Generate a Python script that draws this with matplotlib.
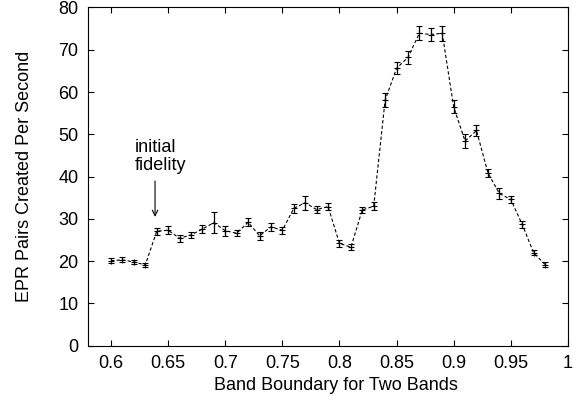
import matplotlib
matplotlib.use("Agg")
import matplotlib.pyplot as plt
import numpy as np

plt.rcParams['font.family'] = ['Liberation Sans', 'DejaVu Sans']

boundary = [0.60, 0.61, 0.62, 0.63, 0.64, 0.65, 0.66, 0.67, 0.68, 0.69,
            0.70, 0.71, 0.72, 0.73, 0.74, 0.75, 0.76, 0.77, 0.78, 0.79,
            0.80, 0.81, 0.82, 0.83, 0.84, 0.85, 0.86, 0.87, 0.88, 0.89,
            0.90, 0.91, 0.92, 0.93, 0.94, 0.95, 0.96, 0.97, 0.98]
pairs = [20.1, 20.3, 19.8, 19.1, 27.1, 27.3, 25.4, 26.2, 27.6, 29.1,
         27.2, 26.6, 29.2, 26.0, 28.1, 27.3, 32.5, 33.8, 32.2, 32.9,
         24.2, 23.3, 32.1, 33.0, 58.1, 65.6, 68.2, 73.9, 73.6, 73.9,
         56.5, 48.4, 50.9, 40.9, 36.0, 34.6, 28.7, 22.0, 19.2]
err = [0.6, 0.6, 0.5, 0.5, 0.8, 0.9, 0.8, 0.8, 0.9, 2.5,
       1.2, 0.7, 0.9, 0.9, 0.9, 0.8, 1.0, 1.6, 0.9, 0.9,
       0.8, 0.7, 0.8, 0.9, 1.6, 1.4, 1.5, 1.7, 1.5, 1.8,
       1.5, 1.7, 1.3, 1.0, 1.4, 0.9, 0.8, 0.6, 0.5]

fig = plt.figure(figsize=(5.73, 4.15), dpi=100)
ax = fig.add_axes([0.154, 0.167, 0.837, 0.815])

ax.plot(boundary, pairs, color='black', linestyle=(0, (3, 2)), linewidth=0.8)
ax.errorbar(boundary, pairs, yerr=err, fmt='+', color='black', markersize=4,
            elinewidth=0.9, capsize=2.5, capthick=0.9, markeredgewidth=0.8)

# note + arrow pointing at the initial-fidelity point
ax.annotate('', xy=(0.6385, 29.8), xytext=(0.6385, 39.6),
            arrowprops=dict(arrowstyle='->', color='black', lw=0.8))
ax.text(0.621, 41.6, 'initial\nfidelity', fontsize=13, ha='left', va='baseline',
        linespacing=1.05)

ax.set_xlim(0.58, 1.0)
ax.set_ylim(0, 80)
ax.set_xticks([0.6, 0.65, 0.7, 0.75, 0.8, 0.85, 0.9, 0.95, 1.0])
ax.set_xticklabels(['0.6', '0.65', '0.7', '0.75', '0.8', '0.85', '0.9', '0.95', '1'])
ax.set_yticks(range(0, 81, 10))
ax.tick_params(direction='in', top=True, right=True, labelsize=13, length=4, pad=7)
ax.set_xlabel('Band Boundary for Two Bands', fontsize=13)
ax.xaxis.set_label_coords(0.516, -0.092)
ax.set_ylabel('EPR Pairs Created Per Second', fontsize=13, labelpad=18)

fig.savefig('out.png', dpi=100)
